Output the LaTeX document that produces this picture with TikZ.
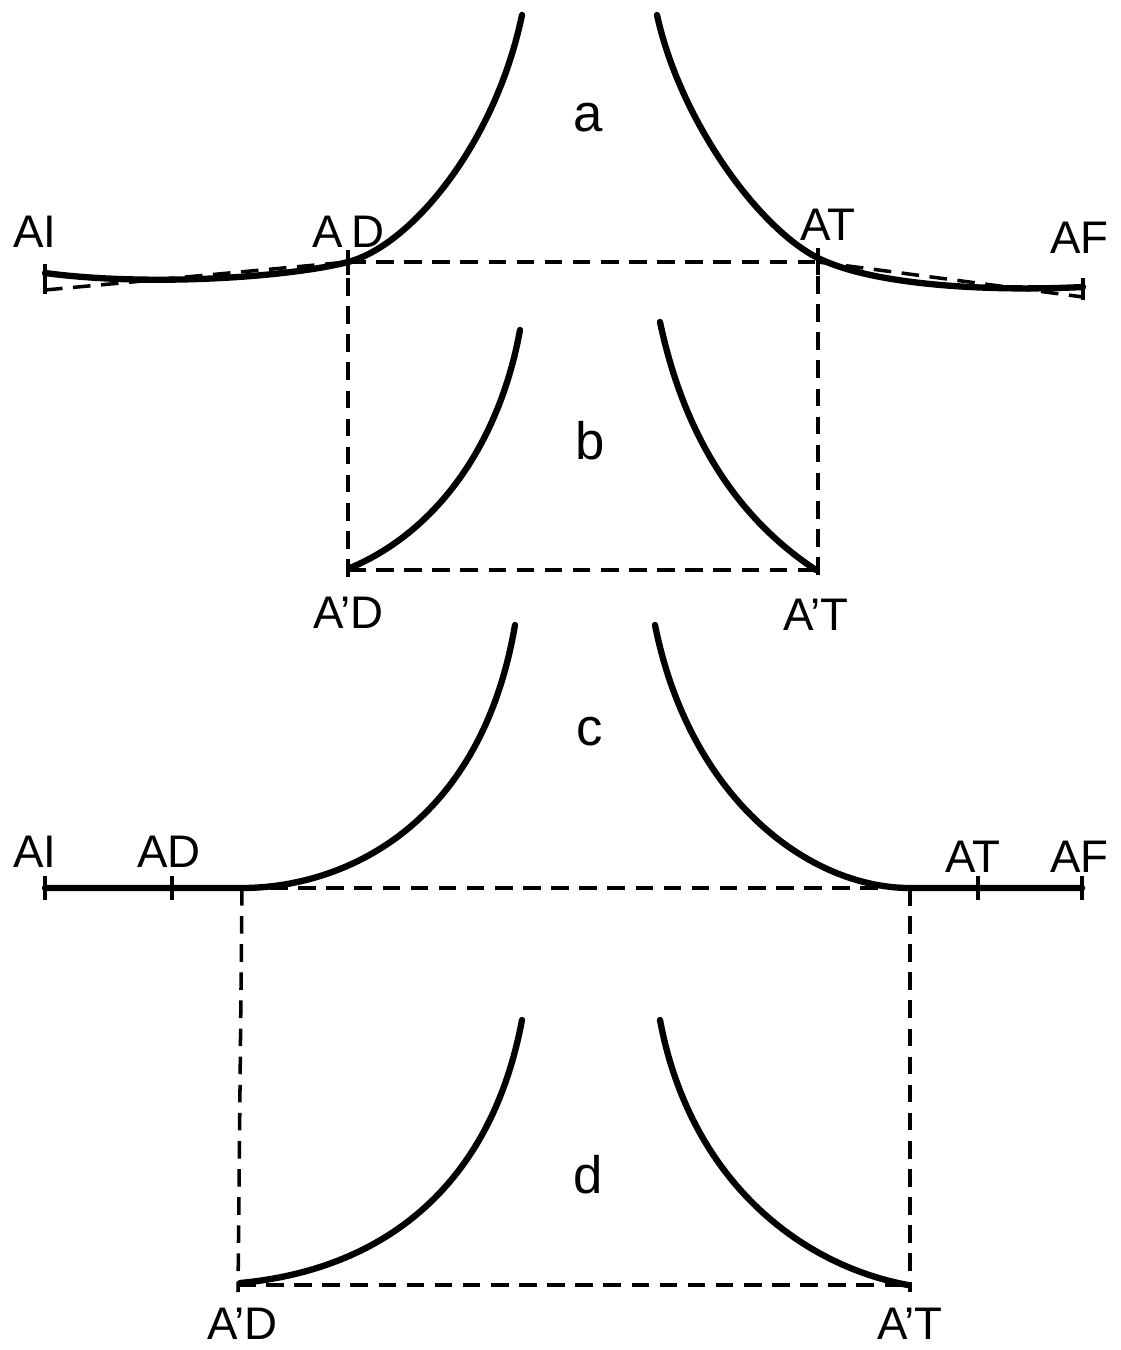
\documentclass[tikz,border=0pt]{standalone}
\usepackage{fontspec}
\setmainfont{Liberation Sans}
\begin{document}
\begin{tikzpicture}[x=0.02cm,y=-0.02cm,
  curve/.style={line width=3.6pt, line cap=round, line join=round},
  dsh/.style={line width=2pt, dash pattern=on 10pt off 6pt},
  tickln/.style={line width=2pt},
  lbl/.style={font=\fontsize{26}{26}\selectfont, inner sep=0pt, anchor=base west},
  sub/.style={font=\fontsize{30}{30}\selectfont, inner sep=0pt}]
\useasboundingbox (0,0) rectangle (1121,1350);

% ---------- a ----------
\coordinate (aAI) at (45,273);
\coordinate (aAIlow) at (45,290);
\coordinate (aAD) at (348,262);
\coordinate (aAT) at (818,262);
\coordinate (aAF) at (1083,287);
\coordinate (aAFlow) at (1083,297);
\coordinate (aLtop) at (522,15);
\coordinate (aRtop) at (657,15);
\draw[curve] (aAI) .. controls (150,287) and (290,277) .. (348,262)
  .. controls (410,246) and (495,145) .. (aLtop);
\draw[curve] (aRtop) .. controls (680,120) and (758,228) .. (818,258)
  .. controls (870,284) and (980,292) .. (aAF);
\draw[dsh] (aAIlow) -- (aAD);
\draw[dsh] (aAD) -- (aAT);
\draw[dsh] (aAT) -- (aAFlow);
\draw[tickln] (45,264) -- (45,294);
\draw[tickln] (1083,278) -- (1083,300);
\draw[tickln] (348,250) -- (348,275);
\draw[tickln] (818,248) -- (818,275);
\node[lbl] (aAIl) at (13,247) {AI};
\node[lbl] (aADl) at (312,247) {A\hspace{5pt}D};
\node[lbl] (aATl) at (800,240) {AT};
\node[lbl] (aAFl) at (1050,253) {AF};
\node[sub] (la) at (588,118) {a};

% ---------- b ----------
\coordinate (bAD) at (348,570);
\coordinate (bAT) at (818,570);
\coordinate (bLtop) at (520,330);
\coordinate (bRtop) at (660,322);
\draw[dsh] (348,250) -- (348,582);
\draw[dsh] (818,248) -- (818,582);
\draw[dsh] (bAD) -- (bAT);
\draw[curve] (bLtop) .. controls (500,440) and (440,530) .. (350,568);
\draw[curve] (bRtop) .. controls (685,440) and (740,520) .. (816,570);
\node[lbl] (bADl) at (313,628) {A'D};
\node[lbl] (bATl) at (783,630) {A'T};
\node[sub] (lb) at (590,441) {b};

% ---------- c ----------
\coordinate (cAI) at (45,888);
\coordinate (cL) at (242,888);
\coordinate (cR) at (910,888);
\coordinate (cAF) at (1082,888);
\coordinate (cLtop) at (515,625);
\coordinate (cRtop) at (655,625);
\draw[dsh] (cL) -- (cR);
\draw[curve] (cAI) -- (cL) .. controls (340,888) and (480,830) .. (cLtop);
\draw[curve] (cRtop) .. controls (690,800) and (810,888) .. (cR) -- (cAF);
\draw[tickln] (45,876) -- (45,900);
\draw[tickln] (172,876) -- (172,900);
\draw[tickln] (978,876) -- (978,900);
\draw[tickln] (1082,876) -- (1082,900);
\node[lbl] (cAIl) at (13,867) {AI};
\node[lbl] (cADl) at (137,867) {AD};
\node[lbl] (cATl) at (945,872) {AT};
\node[lbl] (cAFl) at (1050,872) {AF};
\node[sub] (lc) at (590,732) {c};

% ---------- d ----------
\coordinate (dAD) at (238,1285);
\coordinate (dAT) at (910,1285);
\coordinate (dLtop) at (522,1020);
\coordinate (dRtop) at (660,1020);
\draw[dsh] (cL) -- (238,1292);
\draw[dsh] (cR) -- (910,1292);
\draw[dsh] (dAD) -- (dAT);
\draw[curve] (dLtop) .. controls (490,1190) and (380,1270) .. (240,1283);
\draw[curve] (dRtop) .. controls (690,1180) and (800,1265) .. (908,1285);
\node[lbl] (dADl) at (207,1339) {A'D};
\node[lbl] (dATl) at (877,1339) {A'T};
\node[sub] (ld) at (588,1175) {d};
\end{tikzpicture}
\end{document}
